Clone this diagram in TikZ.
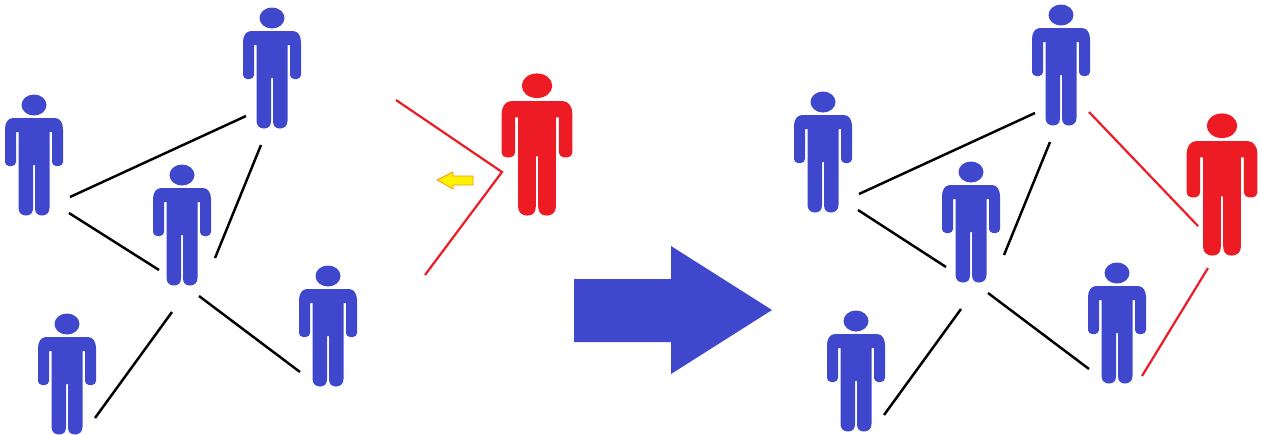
\documentclass[tikz,border=0pt]{standalone}
\usetikzlibrary{calc,positioning}

\definecolor{manblue}{RGB}{63,72,204}
\definecolor{manred}{RGB}{237,28,36}
\definecolor{hintyellow}{RGB}{255,242,0}

\begin{document}
\begin{tikzpicture}[
  x=0.02cm,y=-0.02cm,
  link/.style ={draw=black,line width=1.4pt},
  newlink/.style={draw=manred,line width=1.25pt},
  person/.pic={
    \path[pic actions] (0,10) ellipse [x radius=12.5,y radius=10.5];
    \path[pic actions] (-21,23) -- (21,23)
      .. controls (26,23) and (29,28) .. (29,34)
      -- (29,67) .. controls (29,69) and (27,71) .. (25,71)
      -- (22,71) .. controls (20,71) and (18,69) .. (18,67)
      -- (18,37) -- (15.5,37) -- (15.5,113)
      .. controls (15.5,118) and (12,120.5) .. (8,120.5)
      .. controls (3.5,120.5) and (1,118) .. (1,113)
      -- (1,70) -- (-1,70) -- (-1,113)
      .. controls (-1,118) and (-3.5,120.5) .. (-8,120.5)
      .. controls (-12,120.5) and (-15.5,118) .. (-15.5,113)
      -- (-15.5,37) -- (-18,37) -- (-18,67)
      .. controls (-18,69) and (-20,71) .. (-22,71)
      -- (-25,71) .. controls (-27,71) and (-29,69) .. (-29,67)
      -- (-29,34) .. controls (-29,28) and (-26,23) .. (-21,23) -- cycle;
  },
  bluemen/.style={fill=manblue},
  redman/.style ={fill=manred,xscale=1.22,yscale=1.175},
]
\useasboundingbox (0,0) rectangle (1261,434);

%% =============================================
%% Group before the newcomer joins
%% =============================================
\pic[bluemen] (topL)   at (272,8)   {person};
\pic[bluemen] (leftL)  at (34,95)   {person};
\pic[bluemen] (midL)   at (182,165) {person};
\pic[bluemen] (lowL)   at (328,266) {person};
\pic[bluemen] (footL)  at (67,314)  {person};
\pic[redman]  (newL)   at (537,74)  {person};

\coordinate (a1) at (70,197);
\coordinate (a2) at (246,116);
\coordinate (b1) at (261,145);
\coordinate (b2) at (215,258);
\coordinate (c1) at (69,213);
\coordinate (c2) at (159,270);
\coordinate (d1) at (172,312);
\coordinate (d2) at (95,418);
\coordinate (e1) at (199,296);
\coordinate (e2) at (300,372);
\coordinate (rtop) at (396,100);
\coordinate (rtip) at (502,172);
\coordinate (rlow) at (425,275);

\draw[link] (a1) -- (a2);
\draw[link] (b1) -- (b2);
\draw[link] (c1) -- (c2);
\draw[link] (d1) -- (d2);
\draw[link] (e1) -- (e2);
\draw[newlink] (rtop) -- (rtip) -- (rlow);

% small yellow arrow
\draw[draw=manred!45!hintyellow,fill=hintyellow,line width=0.4pt]
  (437,180) -- (453,172) -- (453,176) -- (473,176)
  -- (473,185) -- (453,185) -- (453,189) -- cycle;

%% =============================================
%% Big arrow
%% =============================================
\fill[manblue] (574,279) -- (671,279) -- (671,246) -- (772,310)
  -- (671,374) -- (671,342) -- (574,342) -- cycle;

%% =============================================
%% Group after the newcomer joined
%% =============================================
\pic[bluemen] (topR)   at (1061,5)  {person};
\pic[bluemen] (leftR)  at (823,92)  {person};
\pic[bluemen] (midR)   at (971,162) {person};
\pic[bluemen] (lowR)   at (1117,263) {person};
\pic[bluemen] (footR)  at (856,311) {person};
\pic[redman]  (newR)   at (1222,114) {person};

\coordinate (f1) at (859,194);
\coordinate (f2) at (1035,113);
\coordinate (g1) at (1050,142);
\coordinate (g2) at (1004,255);
\coordinate (h1) at (858,210);
\coordinate (h2) at (946,267);
\coordinate (i1) at (961,309);
\coordinate (i2) at (884,415);
\coordinate (j1) at (988,293);
\coordinate (j2) at (1089,369);
\coordinate (k1) at (1089,112);
\coordinate (k2) at (1198,226);
\coordinate (m1) at (1208,268);
\coordinate (m2) at (1142,376);

\draw[link] (f1) -- (f2);
\draw[link] (g1) -- (g2);
\draw[link] (h1) -- (h2);
\draw[link] (i1) -- (i2);
\draw[link] (j1) -- (j2);
\draw[newlink] (k1) -- (k2);
\draw[newlink] (m1) -- (m2);

\end{tikzpicture}
\end{document}
